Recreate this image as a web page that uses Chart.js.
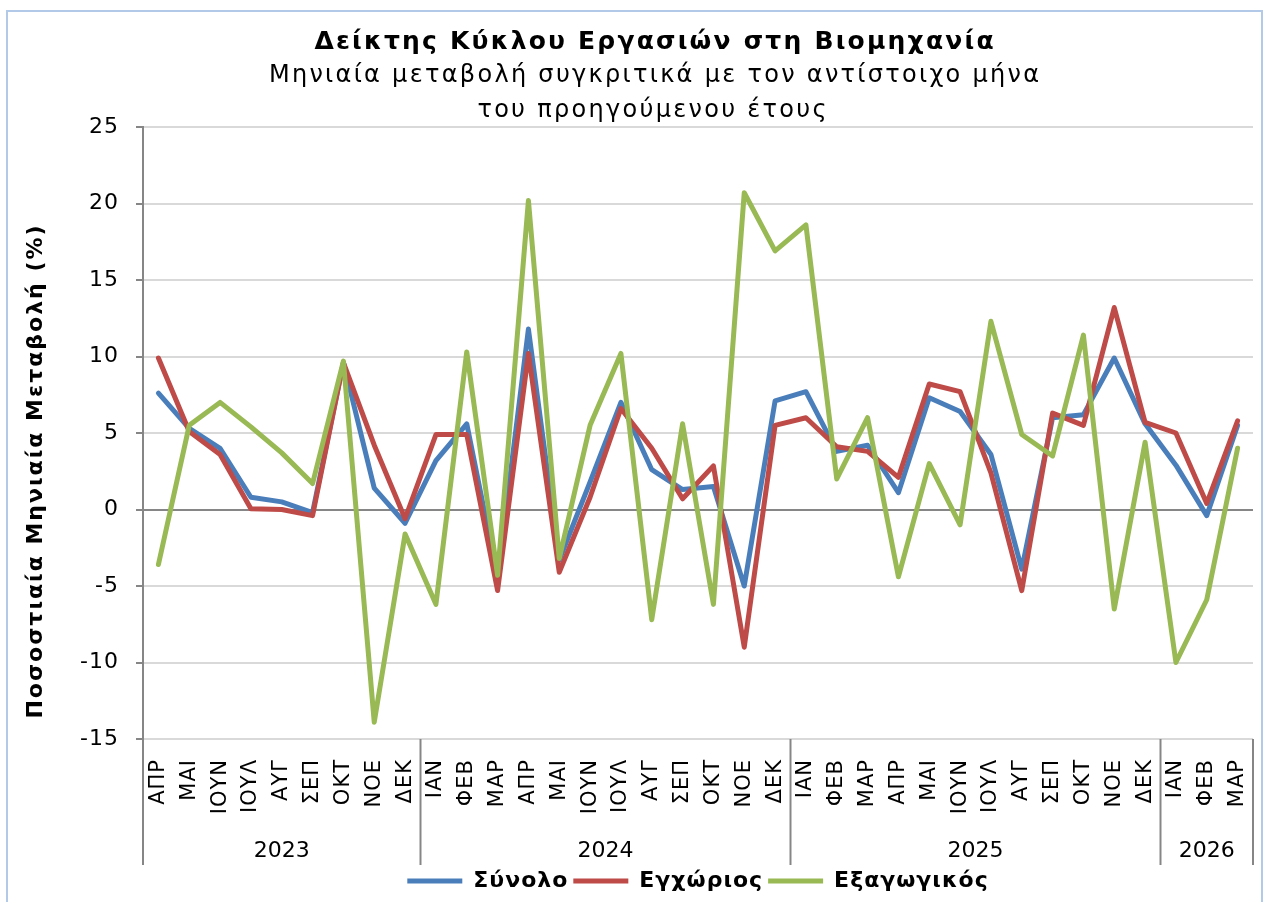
<!DOCTYPE html>
<html lang="el">
<head>
<meta charset="utf-8">
<title>Δείκτης Κύκλου Εργασιών στη Βιομηχανία</title>
<script src="https://cdn.jsdelivr.net/npm/chart.js@4.4.1/dist/chart.umd.min.js"></script>
<style>
  html, body { margin: 0; padding: 0; background: #fff; }
  #wrap { width: 1268px; height: 902px; position: relative; }
</style>
</head>
<body>
<div id="wrap"><canvas id="chart"></canvas></div>
<script>
// Μήνες (Απρ 2023 - Μαρ 2026)
const months = [
    'ΑΠΡ', 'ΜΑΙ', 'ΙΟΥΝ', 'ΙΟΥΛ', 'ΑΥΓ', 'ΣΕΠ', 'ΟΚΤ', 'ΝΟΕ', 'ΔΕΚ',
    'ΙΑΝ', 'ΦΕΒ', 'ΜΑΡ', 'ΑΠΡ', 'ΜΑΙ', 'ΙΟΥΝ', 'ΙΟΥΛ', 'ΑΥΓ', 'ΣΕΠ', 'ΟΚΤ', 'ΝΟΕ', 'ΔΕΚ',
    'ΙΑΝ', 'ΦΕΒ', 'ΜΑΡ', 'ΑΠΡ', 'ΜΑΙ', 'ΙΟΥΝ', 'ΙΟΥΛ', 'ΑΥΓ', 'ΣΕΠ', 'ΟΚΤ', 'ΝΟΕ', 'ΔΕΚ',
    'ΙΑΝ', 'ΦΕΒ', 'ΜΑΡ'
];
const years = ['2023', '2024', '2025', '2026'];
const monthsPerYear = [9, 12, 12, 3];

const synolo = [
    7.6, 5.3, 4.0, 0.8, 0.5, -0.2, 9.6, 1.4, -0.9,
    3.2, 5.6, -4.4, 11.8, -3.3, 1.8, 7.0, 2.6, 1.3, 1.5, -5.0, 7.1,
    7.7, 3.8, 4.2, 1.1, 7.3, 6.4, 3.6, -3.9, 6.0, 6.2, 9.9, 5.6,
    2.9, -0.4, 5.5
];
const egxorios = [
    9.9, 5.1, 3.6, 0.05, 0.0, -0.4, 9.6, 4.2, -0.6,
    4.9, 4.9, -5.3, 10.2, -4.1, 0.8, 6.6, 4.0, 0.7, 2.85, -9.0, 5.5,
    6.0, 4.1, 3.8, 2.1, 8.2, 7.7, 2.4, -5.3, 6.3, 5.5, 13.2, 5.7,
    5.0, 0.4, 5.8
];
const exagogikos = [
    -3.6, 5.5, 7.0, 5.4, 3.7, 1.7, 9.7, -13.9, -1.6,
    -6.2, 10.3, -4.3, 20.2, -3.2, 5.5, 10.2, -7.2, 5.6, -6.2, 20.7, 16.9,
    18.6, 2.0, 6.0, -4.4, 3.0, -1.0, 12.3, 4.9, 3.5, 11.4, -6.5, 4.4,
    -10.0, -5.9, 4.0
];

const FONT = 'DejaVu Sans';
const SPACING = '1px'; // η Verdana του πρωτοτύπου είναι λίγο φαρδύτερη

// κείμενο με αραίωση, κεντραρισμένο
function spacedText(ctx, text, x, y, spacing) {
    ctx.letterSpacing = spacing + 'px';
    ctx.fillText(text, x + spacing / 2, y);
}

// Πλαίσιο, τίτλοι, τίτλος άξονα y και ομάδες ετών
const decorPlugin = {
    id: 'decor',
    beforeLayout(chart) {
        chart.ctx.letterSpacing = SPACING;
    },
    beforeDraw(chart) {
        const ctx = chart.ctx;
        ctx.save();
        ctx.strokeStyle = '#B3C9E8';
        ctx.lineWidth = 2;
        ctx.strokeRect(7, 11, 1255, 900);
        ctx.restore();
        ctx.letterSpacing = SPACING;
    },
    afterDraw(chart) {
        const ctx = chart.ctx;
        const x = chart.scales.x;
        const area = chart.chartArea;
        ctx.save();
        ctx.fillStyle = '#000';
        ctx.textAlign = 'center';
        ctx.textBaseline = 'alphabetic';
        ctx.font = 'bold 25px ' + FONT;
        spacedText(ctx, 'Δείκτης Κύκλου Εργασιών στη Βιομηχανία', 654, 49, 2.2);
        ctx.font = '24px ' + FONT;
        spacedText(ctx, 'Μηνιαία μεταβολή συγκριτικά με τον αντίστοιχο μήνα', 654, 82, 2.3);
        spacedText(ctx, 'του προηγούμενου έτους', 652, 117, 2.3);

        // τίτλος άξονα y
        ctx.save();
        ctx.translate(36, 472);
        ctx.rotate(-Math.PI / 2);
        ctx.textBaseline = 'middle';
        ctx.font = 'bold 22px ' + FONT;
        spacedText(ctx, 'Ποσοστιαία Μηνιαία Μεταβολή (%)', 0, 0, 2);
        ctx.restore();

        // διαχωριστικά και έτη
        const edge = i => {
            if (i <= 0) return area.left;
            if (i >= months.length) return area.right;
            return (x.getPixelForValue(i - 1) + x.getPixelForValue(i)) / 2;
        };
        ctx.letterSpacing = '0px';
        ctx.strokeStyle = '#868686';
        ctx.lineWidth = 2;
        ctx.font = '22px ' + FONT;
        ctx.textBaseline = 'middle';
        let start = 0;
        const bottom = x.bottom;
        for (let k = 0; k < years.length; k++) {
            const end = start + monthsPerYear[k];
            const x0 = edge(start), x1 = edge(end);
            ctx.beginPath();
            ctx.moveTo(x0, area.bottom);
            ctx.lineTo(x0, bottom);
            ctx.stroke();
            if (k === years.length - 1) {
                ctx.beginPath();
                ctx.moveTo(x1, area.bottom);
                ctx.lineTo(x1, bottom);
                ctx.stroke();
            }
            ctx.fillText(years[k], (x0 + x1) / 2, 851);
            start = end;
        }
        ctx.restore();
    }
};

const lineStyle = {
    borderWidth: 5,
    pointRadius: 0,
    tension: 0,
    fill: false,
    borderJoinStyle: 'round',
    borderCapStyle: 'round'
};

new Chart(document.getElementById('chart'), {
    type: 'line',
    data: {
        labels: months,
        datasets: [
            Object.assign({ label: 'Σύνολο', data: synolo, borderColor: '#4A7EBB', backgroundColor: '#4A7EBB', order: 3 }, lineStyle),
            Object.assign({ label: 'Εγχώριος', data: egxorios, borderColor: '#BE4B48', backgroundColor: '#BE4B48', order: 2 }, lineStyle),
            Object.assign({ label: 'Εξαγωγικός', data: exagogikos, borderColor: '#98B954', backgroundColor: '#98B954', order: 1 }, lineStyle)
        ]
    },
    options: {
        responsive: true,
        maintainAspectRatio: false,
        animation: false,
        layout: {
            padding: { top: 127, right: 15, left: 0, bottom: 0 }
        },
        plugins: {
            title: { display: false },
            tooltip: { enabled: false },
            legend: {
                position: 'bottom',
                fullSize: false,
                labels: {
                    usePointStyle: true,
                    pointStyle: 'line',
                    pointStyleWidth: 55,
                    padding: 5,
                    color: '#000',
                    font: { family: FONT, size: 22, weight: 'bold' },
                    sort: (a, b) => a.datasetIndex - b.datasetIndex
                }
            }
        },
        scales: {
            x: {
                offset: true,
                grid: { display: false },
                border: { display: false },
                ticks: {
                    autoSkip: false,
                    maxRotation: 90,
                    minRotation: 90,
                    padding: 12,
                    color: '#000',
                    font: { family: FONT, size: 21 }
                },
                afterFit(scale) {
                    scale.height = 126;
                    scale.paddingLeft = 0;
                    scale.paddingRight = 0;
                }
            },
            y: {
                min: -15,
                max: 25,
                ticks: {
                    stepSize: 5,
                    padding: 17,
                    color: '#000',
                    font: { family: FONT, size: 22 }
                },
                grid: {
                    color: c => (c.tick && c.tick.value === 0) ? '#868686' : '#D9D9D9',
                    lineWidth: 2,
                    tickLength: 7,
                    tickColor: '#868686'
                },
                border: { display: true, color: '#868686', width: 2 },
                afterFit(scale) { scale.width = 143; }
            }
        }
    },
    plugins: [decorPlugin]
});
</script>
</body>
</html>
